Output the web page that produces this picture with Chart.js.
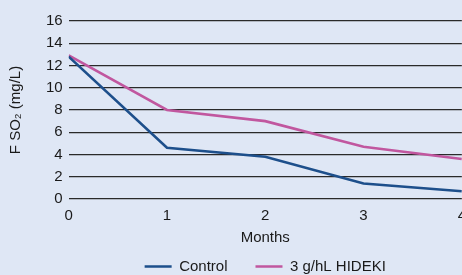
<!DOCTYPE html>
<html>
<head>
<meta charset="utf-8">
<script src="https://cdn.jsdelivr.net/npm/chart.js@4"></script>
<style>
  html, body { margin: 0; padding: 0; background: #dfe7f5; overflow: hidden; }
  #wrap { position: relative; width: 474px; height: 275px; }
</style>
</head>
<body>
<div id="wrap"><canvas id="chart"></canvas></div>
<script>
// F SO2 over time
const months = [0, 1, 2, 3, 4];
const control = [12.8, 4.6, 3.8, 1.4, 0.7];
const hideki = [12.9, 8.0, 7.0, 4.7, 3.6];
const yTicks = [0, 2, 4, 6, 8, 10, 12, 14, 16];

const FONT = "'Liberation Sans', sans-serif";
Chart.defaults.font.family = FONT;
Chart.defaults.font.size = 15;
Chart.defaults.color = '#1a1a1a';

const toPoints = vals => months.map((m, i) => ({ x: m, y: vals[i] }));

// centre the legend under the plot area instead of the whole canvas
const legendUnderPlot = {
    id: 'legendUnderPlot',
    afterLayout(chart) {
        chart.legend.left = chart.chartArea.left;
        chart.legend.right = chart.chartArea.right;
    }
};

new Chart(document.getElementById('chart'), {
    type: 'line',
    data: {
        datasets: [{
            label: 'Control',
            data: toPoints(control),
            borderColor: '#1d4f8b',
            borderWidth: 2.6,
            pointRadius: 0,
            tension: 0
        }, {
            label: '3 g/hL HIDEKI',
            data: toPoints(hideki),
            borderColor: '#c1579f',
            borderWidth: 2.6,
            pointRadius: 0,
            tension: 0
        }]
    },
    plugins: [legendUnderPlot],
    options: {
        responsive: true,
        maintainAspectRatio: false,
        animation: false,
        layout: { padding: { left: 4, right: 0, top: 21, bottom: -9 } },
        plugins: {
            tooltip: { enabled: false },
            legend: {
                position: 'bottom',
                labels: {
                    usePointStyle: true,
                    pointStyle: 'line',
                    pointStyleWidth: 27,
                    padding: 28
                }
            }
        },
        scales: {
            x: {
                type: 'linear',
                min: 0,
                max: 4,
                grid: { display: false, drawTicks: false },
                border: { display: false },
                ticks: { stepSize: 1, padding: 8 },
                title: { display: true, text: 'Months', padding: { top: -4, bottom: -16 } }
            },
            y: {
                min: 0,
                max: 16,
                afterBuildTicks: axis => { axis.ticks = yTicks.map(v => ({ value: v })); },
                grid: { color: '#2a2a2a', lineWidth: 1.3, drawTicks: false },
                border: { display: false },
                ticks: { padding: 6, autoSkip: false },
                title: { display: true, text: 'F SO₂ (mg/L)', padding: { top: 3, bottom: 15 } }
            }
        }
    }
});
</script>
</body>
</html>
